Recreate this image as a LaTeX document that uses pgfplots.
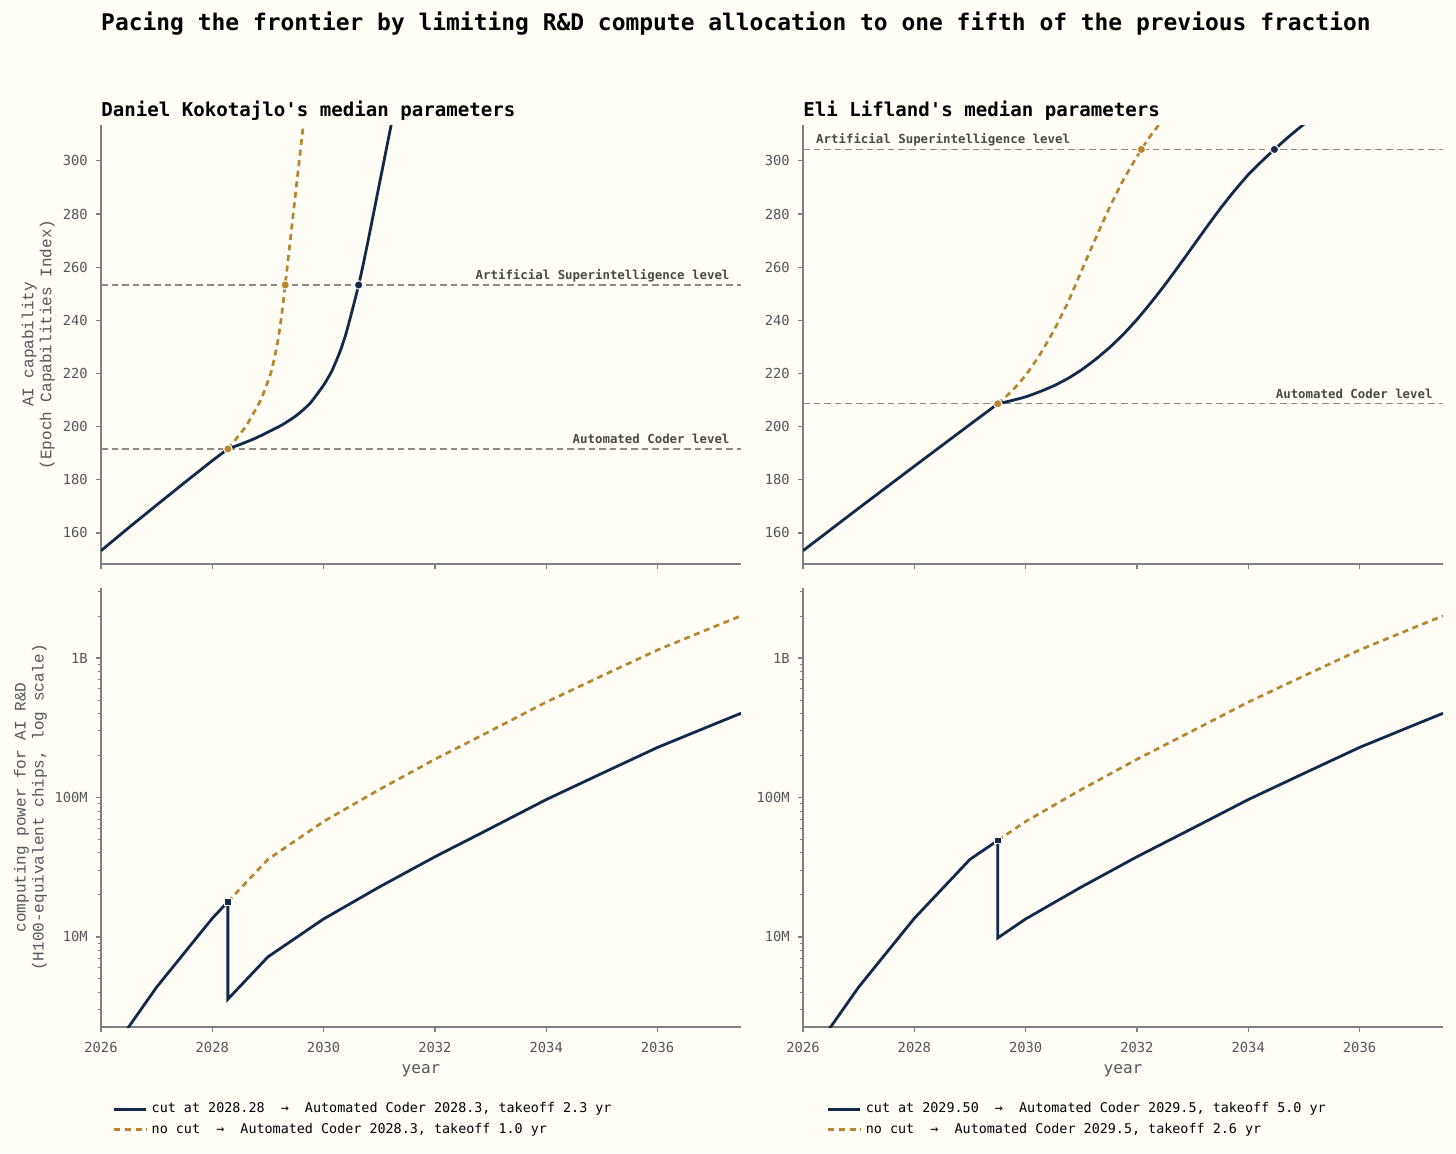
\documentclass[border=0pt]{standalone}
\usepackage{pgfplots}
\pgfplotsset{compat=1.18}
\usepackage{fontspec}
\setmainfont{DejaVu Sans Mono}
\newfontfamily\djm{DejaVu Sans Mono}
\newfontfamily\lmono{Liberation Mono}
\definecolor{bg}{HTML}{FFFDF6}
\definecolor{navy}{HTML}{13294B}
\definecolor{gold}{HTML}{B8862E}
\definecolor{lvl}{HTML}{8A8A85}
\definecolor{anno}{HTML}{4A4A44}
\definecolor{tickc}{HTML}{555555}
\definecolor{spine}{HTML}{808080}

\tikzset{an/.style={font=\djm\bfseries\fontsize{6.2}{7}\selectfont, text=anno, inner sep=0pt}}

\pgfplotsset{
 myBase/.style={
  scale only axis, width=320pt, height=219.5pt,
  xmin=2026, xmax=2037.5,
  axis x line*=bottom, axis y line*=left,
  axis line style={draw=spine, line width=0.6pt, -},
  tick align=outside,
  major tick length=2.5pt, minor tick length=1.4pt,
  tick style={draw=spine, line width=0.6pt},
  minor tick style={draw=spine, line width=0.5pt},
  xtick={2026,2028,2030,2032,2034,2036},
  ticklabel style={font=\djm\fontsize{6.9}{8}\selectfont, text=tickc},
  yticklabel style={xshift=-0.6pt},
  xticklabel style={yshift=-1.8pt},
  xlabel style={at={(axis description cs:0.5,0)}, anchor=center, yshift=-21.8pt, font=\djm\fontsize{8}{9}\selectfont, text=tickc},
  ylabel style={anchor=center, align=center, font=\lmono\fontsize{8}{9}\selectfont, text=tickc},
 },
 myCap/.style={myBase, ymin=148.3, ymax=313.5,
  ytick={160,180,200,220,240,260,280,300},
  yticklabels={160,180,200,220,240,260,280,300},
  xticklabels={}},
 myComp/.style={myBase, ymin=2.26e6, ymax=3.18e9,
  ytick={1e7,1e8,1e9}, yticklabels={10M,100M,1B},
  minor ytick={3e6,4e6,5e6,6e6,7e6,8e6,9e6,2e7,3e7,4e7,5e7,6e7,7e7,8e7,9e7,2e8,3e8,4e8,5e8,6e8,7e8,8e8,9e8,2e9,3e9},
  xticklabels={2026,2028,2030,2032,2034,2036},
  xlabel={year},
  legend cell align=left,
 },
 myBl/.style={navy, line width=1.4pt},
 myGl/.style={gold, line width=1.35pt, dash pattern=on 3pt off 2.3pt},
 myLv/.style={lvl, line width=0.65pt, dash pattern=on 3.3pt off 2pt, forget plot},
 myGm/.style={only marks, mark=*, mark size=2.1pt, mark options={fill=gold, draw=bg, line width=0.5pt, solid}, forget plot},
 myNm/.style={only marks, mark=*, mark size=2.1pt, mark options={fill=navy, draw=bg, line width=0.5pt, solid}, forget plot},
 mySm/.style={only marks, mark=square*, mark size=1.7pt, mark options={fill=navy, draw=bg, line width=0.5pt, solid}, forget plot},
}

\begin{document}
\begin{tikzpicture}
\path[use as bounding box] (0,0) rectangle (728pt,-576.5pt);
\fill[bg] (0,0) rectangle (728pt,-576.5pt);

\node[font=\djm\bfseries\fontsize{11.46}{13}\selectfont, anchor=center] at (368pt,-12pt)
 {Pacing the frontier by limiting R\&D compute allocation to one fifth of the previous fraction};
\node[font=\djm\bfseries\fontsize{9.55}{11}\selectfont, anchor=base west, inner sep=0pt] at (50.5pt,-58pt)
 {Daniel Kokotajlo's median parameters};
\node[font=\djm\bfseries\fontsize{9.55}{11}\selectfont, anchor=base west, inner sep=0pt] at (401.5pt,-58pt)
 {Eli Lifland's median parameters};

% ---------- top left ----------
\begin{axis}[myCap, at={(50.5pt,-62.5pt)}, anchor=north west,
  ylabel={AI capability\\(Epoch Capabilities Index)},
  ylabel style={at={(axis description cs:-0.098,0.5)}}]
\addplot[myLv] coordinates {(2026,253.3) (2037.5,253.3)};
\addplot[myLv] coordinates {(2026,191.6) (2037.5,191.6)};
\node[an, anchor=base east] at (axis cs:2037.3,253.3) [yshift=2.8pt] {Artificial Superintelligence level};
\node[an, anchor=base east] at (axis cs:2037.3,191.6) [yshift=2.8pt] {Automated Coder level};
\addplot[myGl, smooth, tension=0.3] coordinates {
 (2028.28,191.6) (2028.599,200) (2028.869,210) (2029.049,220) (2029.159,230)
 (2029.234,240) (2029.292,250) (2029.31,253.3) (2029.346,260) (2029.40,270)
 (2029.454,280) (2029.508,290) (2029.562,300) (2029.638,314) (2029.67,320)};
\addplot[myBl] coordinates {
 (2026,153.3) (2026.5,162.0) (2027,170.5) (2027.5,178.9) (2028,187.2) (2028.28,191.6)};
\addplot[myBl, smooth, tension=0.3] coordinates {
 (2028.28,191.6) (2028.5,193.3) (2028.75,195.4) (2029,197.9) (2029.25,200.6)
 (2029.5,204.0) (2029.75,208.6) (2030,215.6) (2030.15,221.0) (2030.3,228.5)
 (2030.4,234.8) (2030.5,242.6) (2030.57,248.3) (2030.63,253.3) (2030.7,259.9)
 (2030.8,270.0) (2030.9,280.5) (2031.05,296.3) (2031.22,314.2) (2031.27,319.5)};
\addplot[myGm] coordinates {(2028.28,191.6) (2029.31,253.3)};
\addplot[myNm] coordinates {(2030.63,253.3)};
\end{axis}

% ---------- top right ----------
\begin{axis}[myCap, at={(401.5pt,-62.5pt)}, anchor=north west]
\addplot[myLv] coordinates {(2026,304.3) (2037.5,304.3)};
\addplot[myLv] coordinates {(2026,208.6) (2037.5,208.6)};
\node[an, anchor=base west] at (axis cs:2026.23,304.3) [yshift=2.8pt] {Artificial Superintelligence level};
\node[an, anchor=base east] at (axis cs:2037.32,208.6) [yshift=2.8pt] {Automated Coder level};
\addplot[myGl, smooth, tension=0.3] coordinates {
 (2029.5,208.6) (2029.75,213.3) (2030,219.3) (2030.25,226.9) (2030.5,235.9)
 (2030.75,246.3) (2031,258.4) (2031.25,270.5) (2031.5,282.1) (2031.75,292.6)
 (2032,301.6) (2032.08,304.3) (2032.25,309.6) (2032.5,316.5)};
\addplot[myBl] coordinates {
 (2026,153.3) (2027,169.3) (2028,185.1) (2029,200.8) (2029.5,208.6)};
\addplot[myBl, smooth, tension=0.3] coordinates {
 (2029.5,208.6) (2029.75,209.8) (2030,211.2) (2030.25,213.1) (2030.5,215.3)
 (2030.75,218.0) (2031,221.3) (2031.25,225.2) (2031.5,229.6) (2031.75,234.6)
 (2032,240.3) (2032.25,246.6) (2032.5,253.3) (2032.75,260.4) (2033,267.7)
 (2033.25,275.0) (2033.5,282.1) (2033.75,288.7) (2034,294.8) (2034.25,300.0)
 (2034.47,304.3) (2034.75,309.5) (2035,313.8) (2035.1,315.5)};
\addplot[myGm] coordinates {(2029.5,208.6) (2032.08,304.3)};
\addplot[myNm] coordinates {(2034.47,304.3)};
\end{axis}

% ---------- bottom left ----------
\begin{axis}[ymode=log, myComp, at={(50.5pt,-294pt)}, anchor=north west,
  legend image code/.code={\draw[#1] (0pt,0pt) -- (16pt,0pt);},
  ylabel={computing power for AI R\&D\\(H100-equivalent chips, log scale)},
  ylabel style={at={(axis description cs:-0.110,0.5)}},
  legend style={at={(axis description cs:0.018,-0.162)}, anchor=north west, draw=none, fill=none,
    font=\djm\fontsize{6.7}{8}\selectfont, text=black, row sep=-0.4pt, inner sep=0pt}]
\addplot[myBl] coordinates {
 (2026,1.18e6) (2027,4.37e6) (2028,1.36e7) (2028.28,1.79e7) (2028.28,3.58e6)
 (2029,7.2e6) (2030,1.346e7) (2031,2.28e7) (2032,3.758e7) (2033,6.012e7)
 (2034,9.662e7) (2035,1.489e8) (2036,2.286e8) (2037,3.334e8) (2037.5,4.018e8)};
\addlegendentry{cut at 2028.28\ \ →\ \ Automated Coder 2028.3, takeoff 2.3 yr}
\addplot[myGl] coordinates {
 (2028.28,1.79e7) (2029,3.6e7) (2030,6.73e7) (2031,1.14e8) (2032,1.879e8)
 (2033,3.006e8) (2034,4.831e8) (2035,7.447e8) (2036,1.143e9) (2037,1.667e9) (2037.5,2.009e9)};
\addlegendentry{no cut\ \ →\ \ Automated Coder 2028.3, takeoff 1.0 yr}
\addplot[mySm] coordinates {(2028.28,1.79e7)};
\end{axis}

% ---------- bottom right ----------
\begin{axis}[ymode=log, myComp, at={(401.5pt,-294pt)}, anchor=north west,
  legend image code/.code={\draw[#1] (0pt,0pt) -- (16pt,0pt);},
  legend style={at={(axis description cs:0.037,-0.162)}, anchor=north west, draw=none, fill=none,
    font=\djm\fontsize{6.7}{8}\selectfont, text=black, row sep=-0.4pt, inner sep=0pt}]
\addplot[myBl] coordinates {
 (2026,1.18e6) (2027,4.37e6) (2028,1.36e7) (2029,3.6e7) (2029.5,4.92e7) (2029.5,9.84e6)
 (2030,1.346e7) (2031,2.28e7) (2032,3.758e7) (2033,6.012e7)
 (2034,9.662e7) (2035,1.489e8) (2036,2.286e8) (2037,3.334e8) (2037.5,4.018e8)};
\addlegendentry{cut at 2029.50\ \ →\ \ Automated Coder 2029.5, takeoff 5.0 yr}
\addplot[myGl] coordinates {
 (2029.5,4.92e7) (2030,6.73e7) (2031,1.14e8) (2032,1.879e8)
 (2033,3.006e8) (2034,4.831e8) (2035,7.447e8) (2036,1.143e9) (2037,1.667e9) (2037.5,2.009e9)};
\addlegendentry{no cut\ \ →\ \ Automated Coder 2029.5, takeoff 2.6 yr}
\addplot[mySm] coordinates {(2029.5,4.92e7)};
\end{axis}
\end{tikzpicture}
\end{document}
